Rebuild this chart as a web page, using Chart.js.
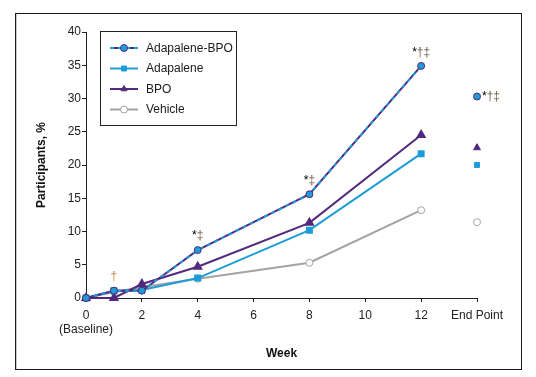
<!DOCTYPE html>
<html>
<head>
<meta charset="utf-8">
<script src="https://cdn.jsdelivr.net/npm/chart.js@4.4.1/dist/chart.umd.min.js"></script>
<style>
  html, body { margin: 0; padding: 0; background: #fff; }
  #wrap { width: 536px; height: 377px; }
</style>
</head>
<body>
<div id="wrap"><canvas id="line-chart" width="536" height="377"></canvas></div>
<script>
// data
const weeks = [0, 1, 2, 4, 8, 12];
const endPointX = 14;
const adapBpo = [0, 1.1, 1.1, 7.2, 15.6, 34.9];
const adap = [0, 1.1, 1.2, 3.0, 10.2, 21.7];
const bpo = [0, 0, 2.1, 4.7, 11.3, 24.5];
const vehicle = [0, 0.9, 1.6, 2.9, 5.3, 13.2];
const endPoint = { adapBpo: 30.3, adap: 20.0, bpo: 22.6, vehicle: 11.4 };
const yTicks = [0, 5, 10, 15, 20, 25, 30, 35, 40];
const xTicks = [0, 2, 4, 6, 8, 10, 12, 14];

const BLUE = '#1e9cd7';
const PURPLE = '#53297d';
const GREY = '#a3a3a3';
const DAGGER = '#6f5c4c';
const FONT = 'Liberation Sans, Arial, Helvetica, sans-serif';

const pts = (arr) => arr.map((v, i) => ({ x: weeks[i], y: v }));

// significance marks: x, y and text
const notes = [
    { x: 1, y: adapBpo[1], dx: 0, dy: -14, parts: [['†', '#c0864a']] },
    { x: 4, y: adapBpo[3], dx: 0, dy: -14, parts: [['*', '#000'], ['‡', DAGGER]] },
    { x: 8, y: adapBpo[4], dx: 0, dy: -14, parts: [['*', '#000'], ['‡', DAGGER]] },
    { x: 12, y: adapBpo[5], dx: 0, dy: -13, parts: [['*', '#000'], ['†‡', DAGGER]] },
    { x: endPointX, y: endPoint.adapBpo, dx: 5, dy: 0, parts: [['*', '#000'], ['†‡', DAGGER]] }
];

const legendItems = [
    { text: 'Adapalene-BPO', line: PURPLE, dash: BLUE, style: 'circle', fill: BLUE, border: PURPLE },
    { text: 'Adapalene', line: BLUE, style: 'rect', fill: BLUE, border: BLUE },
    { text: 'BPO', line: PURPLE, style: 'triangle', fill: PURPLE, border: PURPLE },
    { text: 'Vehicle', line: GREY, style: 'circle', fill: '#fff', border: GREY }
];

const framePlugin = {
    id: 'frame',
    beforeDraw(chart) {
        const c = chart.ctx;
        c.save();
        c.strokeStyle = '#c8c8c8';
        c.lineWidth = 1;
        c.beginPath();
        c.moveTo(16.5, 14); c.lineTo(16.5, 369.5); c.lineTo(521, 369.5);
        c.stroke();
        c.strokeStyle = '#1a1a1a';
        c.strokeRect(15.5, 13.5, 506, 356);
        c.restore();
    }
};

const notesPlugin = {
    id: 'notes',
    afterDatasetsDraw(chart) {
        const c = chart.ctx;
        const xs = chart.scales.x, ys = chart.scales.y;
        c.save();
        c.font = '12px ' + FONT;
        c.textBaseline = 'middle';
        notes.forEach(n => {
            const full = n.parts.map(p => p[0]).join('');
            const w = c.measureText(full).width;
            let px = xs.getPixelForValue(n.x) + n.dx;
            const py = ys.getPixelForValue(n.y) + n.dy;
            if (n.dx === 0) px -= w / 2;
            c.textAlign = 'left';
            n.parts.forEach(p => {
                c.fillStyle = p[1];
                c.fillText(p[0], px, py);
                px += c.measureText(p[0]).width;
            });
        });
        c.restore();
    }
};

const legendPlugin = {
    id: 'boxLegend',
    afterDraw(chart) {
        const c = chart.ctx;
        c.save();
        c.fillStyle = '#fff';
        c.fillRect(100, 31, 137, 95);
        c.strokeStyle = '#222';
        c.lineWidth = 1;
        c.strokeRect(100.5, 31.5, 136, 94);
        c.font = '12px ' + FONT;
        c.textBaseline = 'middle';
        c.textAlign = 'left';
        legendItems.forEach((it, i) => {
            const y = 48 + i * 20.5;
            c.lineWidth = 2;
            c.strokeStyle = it.line;
            c.setLineDash([]);
            c.beginPath(); c.moveTo(110, y); c.lineTo(138, y); c.stroke();
            if (it.dash) {
                c.strokeStyle = it.dash;
                c.setLineDash([4, 4]);
                c.beginPath(); c.moveTo(110, y); c.lineTo(138, y); c.stroke();
                c.setLineDash([]);
            }
            c.fillStyle = it.fill;
            c.strokeStyle = it.border;
            c.lineWidth = 1;
            Chart.helpers.drawPoint(c, { pointStyle: it.style, radius: 3.5, borderWidth: 1 }, 124, y);
            c.fillStyle = '#1a1a1a';
            c.fillText(it.text, 146, y + 0.5);
        });
        c.restore();
    }
};

const ctx = document.getElementById('line-chart').getContext('2d');
const myChart = new Chart(ctx, {
    type: 'line',
    data: {
        datasets: [
            {
                label: 'Adapalene-BPO',
                data: pts(adapBpo),
                borderColor: BLUE,
                borderWidth: 2,
                borderDash: [4, 4],
                pointStyle: 'circle',
                pointRadius: 3.5,
                pointBackgroundColor: BLUE,
                pointBorderColor: PURPLE,
                pointBorderWidth: 1,
                clip: false
            },
            {
                label: 'Adapalene-BPO base',
                data: pts(adapBpo),
                borderColor: PURPLE,
                borderWidth: 2,
                pointRadius: 0,
                clip: false
            },
            {
                label: 'BPO',
                data: pts(bpo),
                borderColor: PURPLE,
                borderWidth: 2,
                pointStyle: 'triangle',
                pointRadius: 4,
                pointBackgroundColor: PURPLE,
                pointBorderColor: PURPLE,
                clip: false
            },
            {
                label: 'Adapalene',
                data: pts(adap),
                borderColor: BLUE,
                borderWidth: 2,
                pointStyle: 'rect',
                pointRadius: 3.5,
                pointBackgroundColor: BLUE,
                pointBorderColor: BLUE,
                clip: false
            },
            {
                label: 'Vehicle',
                data: pts(vehicle),
                borderColor: GREY,
                borderWidth: 2,
                pointStyle: 'circle',
                pointRadius: 3.5,
                pointBackgroundColor: '#fff',
                pointBorderColor: GREY,
                pointBorderWidth: 1,
                clip: false
            },
            {
                label: 'End point',
                data: [
                    { x: endPointX, y: endPoint.adapBpo },
                    { x: endPointX, y: endPoint.bpo },
                    { x: endPointX, y: endPoint.adap },
                    { x: endPointX, y: endPoint.vehicle }
                ],
                showLine: false,
                clip: false,
                pointStyle: ['circle', 'triangle', 'rect', 'circle'],
                pointRadius: [3.5, 4, 3.5, 3.5],
                pointBackgroundColor: [BLUE, PURPLE, BLUE, '#fff'],
                pointBorderColor: [PURPLE, PURPLE, BLUE, GREY],
                pointBorderWidth: 1
            }
        ]
    },
    options: {
        responsive: false,
        animation: false,
        layout: { padding: { left: 0, top: 32, right: 59, bottom: 15 } },
        elements: { line: { tension: 0 } },
        plugins: {
            legend: { display: false },
            tooltip: { enabled: false }
        },
        scales: {
            x: {
                type: 'linear',
                min: 0,
                max: 14,
                afterBuildTicks: (s) => { s.ticks = xTicks.map(v => ({ value: v })); },
                afterFit: (s) => { s.height = 64; },
                border: { color: '#222', width: 1 },
                grid: { drawOnChartArea: false, color: '#222', tickLength: 4 },
                ticks: {
                    color: '#222',
                    font: { family: FONT, size: 12 },
                    padding: 6,
                    maxRotation: 0,
                    autoSkip: false,
                    callback: (v) => v === 0 ? ['0', '(Baseline)'] : (v === endPointX ? 'End Point' : String(v))
                },
                title: {
                    display: true,
                    text: 'Week',
                    color: '#111',
                    font: { family: FONT, size: 12, weight: 'bold' },
                    padding: { top: 0, bottom: 1 }
                }
            },
            y: {
                min: 0,
                max: 40,
                afterBuildTicks: (s) => { s.ticks = yTicks.map(v => ({ value: v })); },
                afterFit: (s) => { s.width = 86; },
                border: { color: '#222', width: 1 },
                grid: { drawOnChartArea: false, color: '#222', tickLength: 4 },
                ticks: {
                    color: '#222',
                    font: { family: FONT, size: 12 },
                    padding: 1
                },
                title: {
                    display: true,
                    text: 'Participants, %',
                    color: '#111',
                    font: { family: FONT, size: 12, weight: 'bold' },
                    padding: { top: 34, bottom: 0 }
                }
            }
        }
    },
    plugins: [framePlugin, notesPlugin, legendPlugin]
});
</script>
</body>
</html>
